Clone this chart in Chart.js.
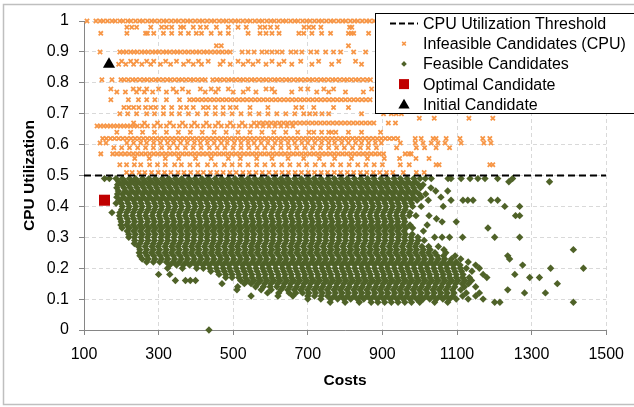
<!DOCTYPE html>
<html>
<head>
<meta charset="utf-8">
<script src="https://cdn.jsdelivr.net/npm/chart.js@4.4.1/dist/chart.umd.min.js"></script>
<style>
  html, body { margin: 0; padding: 0; background: #fff; }
  #wrap { width: 634px; height: 407px; position: relative; }
</style>
</head>
<body>
<div id="wrap"><canvas id="myChart"></canvas></div>
<script>
// axis ticks
const costTicks = [100, 300, 500, 700, 900, 1100, 1300, 1500];
const utilTicks = [0, 0.1, 0.2, 0.3, 0.4, 0.5, 0.6, 0.7, 0.8, 0.9, 1];

const seriesNames = ['CPU Utilization Threshold', 'Infeasible Candidates (CPU)', 'Feasible Candidates', 'Optimal Candidate', 'Initial Candidate'];

const threshold = 0.5;
const optimalCandidate = [[155, 0.42]];
const initialCandidate = [[167, 0.86]];

// infeasible candidates: [utilization, costs of the points on that level]
const infeasibleRows = [
  [1.00, '108 132 143 152 163 175 184 196 205 217 226 238 249 258 270 281 290 302 313 322 334 345 354 366 377 386 398 409 418 430 441 450 462 473 482 494 505 514 526 537 546 558 569 578 590 601 610 622 633 642 654 665 674 686 697 706 718 729 738 750 761 770 782 793 802 814 825 834 846 857 866 878 889 898 910 921 930 942 953 962 974 985 994'],
  [0.98, '215 228 241 279 308 321 335 359 367 393 412 428 455 487 513 535 572 585 600 618 690 703 715 735 812 818'],
  [0.96, '145 215 265 270 287 313 335 359 380 401 415 441 465 487 540 572 588 604 623 676 689 711 737 761 809 817 823 863'],
  [0.92, '455 468 809'],
  [0.90, '143 196 205 214 225 234 243 254 263 272 283 292 301 312 321 330 341 350 359 370 380 391 401 410 421 430 440 451 461 471 482 492 524 540 556 577 590 604 618 631 655 668 684 708 724 748 769 788 823 855'],
  [0.87, '201 225 241 268 287 319 348 380 407 433 473 513 540 567 604 636 681 729 783 828'],
  [0.86, '193 212 233 255 279 305 332 367 393 415 465 492 527 553 588 623 657 711 764 844'],
  [0.81, '148 175 199 208 219 230 239 250 261 270 281 292 301 312 323 332 343 354 363 374 385 394 405 416 425 445 456 465 476 487 496 507 518 527 538 549 558 569 580 589 600 611 620 631 642 651 662 673 682 693 704 713 724 735 744 755 766 775 786 797 806 817 828 837 848 859 868'],
  [0.78, '172 232 248 268 300 339 364 412 441 460 487 540 588 604 681 700 743 769 871'],
  [0.77, '188 211 241 262 284 321 348 380 425 453 500 527 561 611 657 724 756 801 849'],
  [0.745, '172 219 246 268 290 321 356 383 394 405 416 427 438 449 460 471 482 493 504 515 526 537 548 559 570 581 592 603 614 625 636 647 658 669 680 691 702 713 724 735 746 757 768 779 790 801 812 823 834 845 856 867'],
  [0.72, '207 220 233 247 265 279 292 313 335 359 375 393 420 433 452 473 492 508 545 593 668 684 716 769 809'],
  [0.70, '196 217 241 268 289 313 335 356 380 404 428 452 473 497 521 545 569 593 617 641 665 689 705 720 738 756 844 903 924 937 951'],
  [0.685, '999 1039 1132 1196'],
  [0.67, '233 262 297 330 364 396 428 460 492 524 556 569 580 591 602 613 624 635 646 657 668 679 690 701 712 723 734 745 756 767 778 789 800 811 822 833 844 855 866 877 916 935'],
  [0.66, '135 144 153 162 171 180 189 198 207 216 225 234 243 256 270 288 305 321 340 356 372 388 404 420 436 452 468 484 500 516 532 548 564 580 596 612 628 644 660'],
  [0.64, '188 225 257 289 321 353 385 417 449 481 513 545 577 609 641 673 703 716 737 756 764 775 809 844 895'],
  [0.62, '150 160 171 182 193 204 215 226 237 248 259 270 281 292 303 314 325 336 347 358 369 380 391 402 413 424 435 446 457 468 479 490 501 512 523 534 545 556 567 578 589 600 611 622 633 644 655 666 677 688 699 710 721 732 743 754 765 776 787 798 809 820 831 842 853 864 875 886 897 908 919 930 941 988 1004 1036 1044 1071 1108 1169 1188'],
  [0.605, '143 159 215 233 252 268 287 305 324 340 359 377 396 412 431 449 468 484 503 521 540 556 575 593 612 628 647 665 684 700 719 737 756 772 791 809 828 844 863 881 897 948 988 1009 1031 1049 1068 1111 1172 1191'],
  [0.59, '180 201 222 244 265 286 308 329 350 372 393 414 436 457 478 500 521 542 564 585 606 628 649 670 692 713 734 756 777 798 820 841 862 884 938 991 1013 1044 1080'],
  [0.57, '145 177 188 199 210 221 232 243 254 265 276 287 298 309 320 331 342 353 364 375 386 397 408 419 430 441 452 463 474 485 496 507 518 529 540 551 562 573 584 595 606 617 628 639 650 661 672 683 694 705 716 727 738 749 760 771 782 793 804 815 826 837 848 859 870 881 892 903 961 972 977'],
  [0.555, '236 275 318 354 399 441 487 519 563 604 647 689 731 772 817 860 905 946 990 1025'],
  [0.535, '196 214 235 252 276 297 318 343 361 384 405 431 452 476 497 518 540 563 585 608 630 652 676 697 720 743 766 788 811 834 856 878 900 948 972 1044 1052 1188 1196'],
  [0.51, '214 229 248 263 281 299 316 333 352 368 386 405 420 439 456 473 491 508 526 543 561 578 596 614 631 648 666 683 701 718 736 753 771 788 806 823 841 858 876 893 911 928 956 991 1012']
];

// feasible candidates: [utilization, costs of the points on that level]
const feasibleRows = [
  [0.49, '155 168 186 203 222 238 257 274 291 310 327 345 362 381 398 416 433 452 469 487 505 522 540 558 575 593 611 628 646 665 682 700 717 735 754 771 789 806 825 842 860 877 896 913 931 948 966 984 1001 1015 1031 1076 1084 1111 1135 1156 1175 1209 1249'],
  [0.48, '193 211 229 246 264 281 299 317 334 352 370 387 405 423 440 458 476 493 511 529 546 564 582 599 617 635 652 670 688 705 723 741 758 776 794 811 829 847 864 882 900 917 935 953 970 988 1239 1348'],
  [0.47, '190 202 220 238 255 273 291 308 326 344 361 379 397 414 432 450 467 485 503 520 538 556 573 591 609 626 644 662 679 697 715 732 750 768 785 803 821 838 856 874 891 909 927 944 962 980 997 1009'],
  [0.46, '188 207 224 242 260 277 295 313 330 348 366 383 401 419 436 454 472 489 507 525 542 560 578 595 613 631 648 666 684 701 719 737 754 772 790 807 825 843 860 878 896 913 931 949 966 984 1002 1030'],
  [0.45, '192 211 229 246 264 282 299 317 335 352 370 388 405 423 441 458 476 494 511 529 547 564 582 600 617 635 653 670 688 706 723 741 759 776 794 812 829 847 865 882 900 918 935 953 971 988 1043 1075'],
  [0.44, '190 203 220 238 256 273 291 309 326 344 362 379 397 415 432 450 468 485 503 521 538 556 574 591 609 627 644 662 680 697 715 733 750 768 786 803 821 839 856 874 892 909 927 945 962 980 998 1016'],
  [0.43, '188 206 224 242 259 277 295 312 330 348 365 383 401 418 436 454 471 489 507 524 542 560 577 595 613 630 648 666 683 701 719 736 754 772 789 807 825 842 860 878 895 913 931 948 966 984 1004 1057'],
  [0.42, '197 215 233 251 268 286 304 321 339 357 374 392 410 427 445 463 480 498 516 533 551 569 586 604 622 639 657 675 692 710 728 745 763 781 798 816 834 851 869 887 904 922 940 957 975 993 1023 1084 1116 1129 1143 1191 1209'],
  [0.41, '186 200 218 236 253 271 289 306 324 342 359 377 395 412 430 448 465 483 501 518 536 554 571 589 607 624 642 660 677 695 713 730 748 766 783 801 819 836 854 872 889 907 925 942 960 978'],
  [0.40, '203 221 239 256 274 292 309 327 345 362 380 398 415 433 451 468 486 504 521 539 557 574 592 610 627 645 663 680 698 716 733 751 769 786 804 822 839 857 875 892 910 928 945 963 981 1004 1063 1228 1268'],
  [0.39, '201 219 236 254 272 289 307 325 342 360 378 395 413 431 448 466 484 501 519 537 554 572 590 607 625 643 660 678 696 713 731 749 766 784 802 819 837 855 872 890 908 925 943 961'],
  [0.38, '175 196 214 232 249 267 285 302 320 338 355 373 391 408 426 444 461 479 497 514 532 550 567 585 603 620 638 656 673 691 709 726 744 762 779 797 815 832 850 868 885 903 921 938 956 974'],
  [0.37, '195 212 230 248 265 283 301 318 336 354 371 389 407 424 442 460 477 495 513 530 548 566 583 601 619 636 654 672 689 707 725 742 760 778 795 813 831 848 866 884 901 919 937 954 972 990 1025 1257 1268'],
  [0.36, '197 216 233 251 269 286 304 322 339 357 375 392 410 428 445 463 481 498 516 534 551 569 587 604 622 640 657 675 693 710 728 746 763 781 799 816 834 852 869 887 905 922 940 958 1045'],
  [0.35, '200 218 236 253 271 289 306 324 342 359 377 395 412 430 448 465 483 501 518 536 554 571 589 607 624 642 660 677 695 713 730 748 766 783 801 819 836 854 872 889 907 925 942 960 1060 1098'],
  [0.34, '199 214 232 250 267 285 303 320 338 356 373 391 409 426 444 462 479 497 515 532 550 568 585 603 621 638 656 674 691 709 727 744 762 780 797 815 833 850 868 886 903 921 939 956 974 1020'],
  [0.33, '202 221 239 256 274 292 309 327 345 362 380 398 415 433 451 468 486 504 521 539 557 574 592 610 627 645 663 680 698 716 733 751 769 786 804 822 839 857 875 892 910 928 945 963 981 1183'],
  [0.32, '216 233 251 269 286 304 322 339 357 375 392 410 428 445 463 481 498 516 534 551 569 587 604 622 640 657 675 693 710 728 746 763 781 799 816 834 852 869 887 905 922 940 958 1010'],
  [0.31, '220 238 256 273 291 309 326 344 362 379 397 415 432 450 468 485 503 521 538 556 574 591 609 627 644 662 680 697 715 733 750 768 786 803 821 839 856 874 892 909 927 945 962 980'],
  [0.30, '220 235 253 270 288 306 323 341 359 376 394 412 429 447 465 482 500 518 535 553 571 588 606 624 641 659 677 694 712 730 747 765 783 800 818 836 853 871 889 906 924 942 959 977 995 1040 1060 1080 1115 1201 1268'],
  [0.29, '236 254 272 289 307 325 342 360 378 395 413 431 448 466 484 501 519 537 554 572 590 607 625 643 660 678 696 713 731 749 766 784 802 819 837 855 872 890 908 925 943 961 978 996 1012'],
  [0.28, '235 250 268 286 303 321 339 356 374 392 409 427 445 462 480 498 515 533 551 568 586 604 621 639 657 674 692 710 727 745 763 780 798 816 833 851 869 886 904 922 939 957 975 992'],
  [0.27, '246 264 282 299 317 335 352 370 388 405 423 441 458 476 494 511 529 547 564 582 600 617 635 653 670 688 706 723 741 759 776 794 812 829 847 865 882 900 918 935 953 971 988 1006 1024 1050'],
  [0.26, '250 268 286 303 321 339 356 374 392 409 427 445 462 480 498 515 533 551 568 586 604 621 639 657 674 692 710 727 745 763 780 798 816 833 851 869 886 904 922 939 957 975 992 1010 1028 1065 1412'],
  [0.25, '248 264 281 299 317 334 352 370 387 405 423 440 458 476 493 511 529 546 564 582 599 617 635 652 670 688 705 723 741 758 776 794 811 829 847 864 882 900 917 935 953 970 988 1006 1023 1041 1070'],
  [0.24, '250 269 287 305 322 340 358 375 393 411 428 446 464 481 499 517 534 552 570 587 605 623 640 658 676 693 711 729 746 764 782 799 817 835 852 870 888 905 923 941 958 976 994 1011 1029 1047 1064 1095 1236'],
  [0.23, '256 272 290 308 325 343 361 378 396 414 431 449 467 484 502 520 537 555 573 590 608 626 643 661 679 696 714 732 749 767 785 802 820 838 855 873 891 908 926 944 961 979 997 1014 1032 1050 1067 1085 1110 1241'],
  [0.22, '268 286 303 321 339 356 374 392 409 427 445 462 480 498 515 533 551 568 586 604 621 639 657 674 692 710 727 745 763 780 798 816 833 851 869 886 904 922 939 957 975 992 1010 1028 1045 1063 1081 1098 1130'],
  [0.21, '330 348 366 383 401 419 436 454 472 489 507 525 542 560 578 595 613 631 648 666 684 701 719 737 754 772 790 807 825 843 860 878 896 913 931 949 966 984 1002 1019 1037 1055 1072 1090 1108 1150 1276'],
  [0.20, '324 364 402 420 437 455 473 490 508 526 543 561 579 596 614 632 649 667 685 702 720 738 755 773 791 808 826 844 861 879 897 914 932 950 967 985 1003 1020 1038 1056 1073 1091 1109 1125 1160 1351 1439'],
  [0.19, '440 458 476 493 511 529 546 564 582 599 617 635 652 670 688 705 723 741 758 776 794 811 829 847 864 882 900 917 935 953 970 988 1006 1023 1041 1059 1076 1094 1112 1140'],
  [0.18, '300 330 462 480 497 515 533 550 568 586 603 621 639 656 674 692 709 727 745 762 780 798 815 833 851 868 886 904 921 939 957 974 992 1010 1027 1045 1063 1080 1098 1116 1170 1255'],
  [0.17, '480 497 515 532 550 568 585 603 621 638 656 674 691 709 727 744 762 780 797 815 833 850 868 886 903 921 939 956 974 992 1009 1027 1045 1062 1080 1098 1115 1133 1180 1295 1321'],
  [0.16, '345 372 385 399 520 538 556 573 591 609 626 644 662 679 697 715 732 750 768 785 803 821 838 856 874 891 909 927 944 962 980 997 1015 1033 1050 1068 1086 1103 1121 1139'],
  [0.15, '470 530 548 566 584 601 619 637 654 672 690 707 725 743 760 778 796 813 831 849 866 884 902 919 937 955 972 990 1008 1025 1043 1061 1078 1096 1114 1131 1369'],
  [0.14, '512 560 581 599 617 634 652 670 687 705 723 740 758 776 793 811 829 846 864 882 899 917 935 952 970 988 1005 1023 1041 1058 1076 1094 1120 1150'],
  [0.13, '510 575 602 628 646 664 681 699 717 734 752 770 787 805 823 840 858 876 893 911 929 946 964 982 999 1017 1035 1052 1070 1088 1110 1236'],
  [0.12, '592 622 650 668 686 703 721 739 756 774 792 809 827 845 862 880 898 915 933 951 968 986 1004 1021 1039 1057 1074 1092 1125 1160 1281 1337'],
  [0.11, '548 620 660 700 718 736 753 771 789 806 824 842 859 877 895 912 930 948 965 983 1001 1018 1036 1054 1071 1089 1115 1150'],
  [0.10, '700 735 762 780 797 815 833 850 868 886 903 921 939 956 974 992 1009 1027 1045 1062 1080 1098 1130 1170'],
  [0.09, '760 800 838 870 888 906 924 942 960 978 1000 1040 1075 1201 1215 1412'],
  [0.00, '435']
];

function rowsToPoints(rows) {
  const pts = [];
  rows.forEach(r => {
    r[1].split(' ').forEach(c => pts.push({ x: +c, y: r[0] }));
  });
  return pts;
}

const orange = '#F79646';
const green = '#4F6228';
const red = '#C00000';
const FONT = "'Liberation Sans', Arial, sans-serif";

// white background + grey chart border
const frame = {
  id: 'frame',
  beforeDraw(chart) {
    const c = chart.ctx;
    c.save();
    c.fillStyle = '#fff';
    c.fillRect(0, 0, chart.width, chart.height);
    c.strokeStyle = '#BFBFBF';
    c.lineWidth = 1.5;
    c.strokeRect(3.5, 4.5, 660, 400);
    c.restore();
  }
};

// legend box like the excel one (top right, over the plot)
const boxLegend = {
  id: 'boxLegend',
  afterDraw(chart) {
    const c = chart.ctx;
    const bx = 375.5, by = 13.5, rowH = 20.2;
    c.save();
    c.fillStyle = '#fff';
    c.fillRect(bx, by, 300, 100);
    c.strokeStyle = '#000';
    c.lineWidth = 1;
    c.strokeRect(bx, by, 300, 100);
    const sx = 404, tx = 423;
    const y0 = by + 10;
    // threshold
    c.setLineDash([6, 3]);
    c.lineWidth = 2;
    c.beginPath(); c.moveTo(390, y0); c.lineTo(418, y0); c.stroke();
    c.setLineDash([]);
    // infeasible
    c.strokeStyle = orange; c.lineWidth = 1.5;
    Chart.helpers.drawPoint(c, { pointStyle: 'crossRot', radius: 2.6, borderWidth: 1.5 }, sx, y0 + rowH);
    // feasible
    c.fillStyle = green; c.strokeStyle = green;
    Chart.helpers.drawPoint(c, { pointStyle: 'rectRot', radius: 2.8, borderWidth: 0 }, sx, y0 + rowH * 2);
    // optimal
    c.fillStyle = red;
    c.fillRect(sx - 5, y0 + rowH * 3 - 5, 10, 10);
    // initial
    c.fillStyle = '#000'; c.strokeStyle = '#000';
    Chart.helpers.drawPoint(c, { pointStyle: 'triangle', radius: 6.5, borderWidth: 0 }, sx, y0 + rowH * 4 + 1);
    c.fillStyle = '#000';
    c.font = '16px ' + FONT;
    c.textBaseline = 'middle';
    seriesNames.forEach((n, i) => c.fillText(n, tx, y0 + rowH * i + 1));
    c.restore();
  }
};

const ctx = document.getElementById('myChart').getContext('2d');

const myChart = new Chart(ctx, {
  type: 'scatter',
  data: {
    datasets: [
      {
        label: seriesNames[0],
        data: [{ x: costTicks[0], y: threshold }, { x: costTicks[costTicks.length - 1], y: threshold }],
        showLine: true,
        borderColor: '#000',
        borderWidth: 2,
        borderDash: [7, 4],
        pointRadius: 0,
        order: 0
      },
      {
        label: seriesNames[4],
        data: initialCandidate.map(p => ({ x: p[0], y: p[1] })),
        pointStyle: 'triangle',
        pointRadius: 7,
        backgroundColor: '#000',
        borderWidth: 0,
        clip: false,
        order: 1
      },
      {
        label: seriesNames[3],
        data: optimalCandidate.map(p => ({ x: p[0], y: p[1] })),
        pointStyle: 'rect',
        pointRadius: 7.8,
        backgroundColor: red,
        borderWidth: 0,
        clip: false,
        order: 2
      },
      {
        label: seriesNames[2],
        data: rowsToPoints(feasibleRows),
        pointStyle: 'rectRot',
        pointRadius: 3.7,
        backgroundColor: green,
        borderColor: green,
        borderWidth: 0,
        clip: false,
        order: 3
      },
      {
        label: seriesNames[1],
        data: rowsToPoints(infeasibleRows),
        pointStyle: 'crossRot',
        pointRadius: 3,
        borderColor: orange,
        borderWidth: 1.8,
        clip: false,
        order: 4
      }
    ]
  },
  options: {
    responsive: true,
    maintainAspectRatio: false,
    animation: false,
    events: [],
    layout: { padding: { left: 0, top: 21, right: 25, bottom: 0 } },
    plugins: {
      legend: { display: false },
      tooltip: { enabled: false }
    },
    scales: {
      x: {
        type: 'linear',
        min: costTicks[0],
        max: costTicks[costTicks.length - 1],
        afterFit: s => { s.height = 77; },
        afterBuildTicks: s => { s.ticks = costTicks.map(v => ({ value: v })); },
        ticks: { color: '#000', font: { family: FONT, size: 16 }, padding: 10, maxRotation: 0, callback: v => String(v) },
        grid: { color: '#D9D9D9', tickColor: '#868686', tickLength: 5, lineWidth: 1 },
        border: { color: '#868686', width: 1, dash: [4, 3] },
        title: { display: true, text: 'Costs', color: '#000', font: { family: FONT, size: 15.5, weight: 'bold' }, padding: { top: 0, bottom: 17 } }
      },
      y: {
        type: 'linear',
        min: 0,
        max: 1,
        afterFit: s => { s.width = 84; },
        afterBuildTicks: s => { s.ticks = utilTicks.map(v => ({ value: v })); },
        ticks: { color: '#000', font: { family: FONT, size: 16 }, padding: 10, callback: v => String(+v.toFixed(1)) },
        grid: { color: '#D9D9D9', tickColor: '#868686', tickLength: 5, lineWidth: 1 },
        border: { color: '#868686', width: 1, dash: [4, 3] },
        title: { display: true, text: 'CPU Utilization', color: '#000', font: { family: FONT, size: 15.5, weight: 'bold' }, padding: { top: 20, bottom: 0 } }
      }
    }
  },
  plugins: [frame, boxLegend]
});
</script>
</body>
</html>
